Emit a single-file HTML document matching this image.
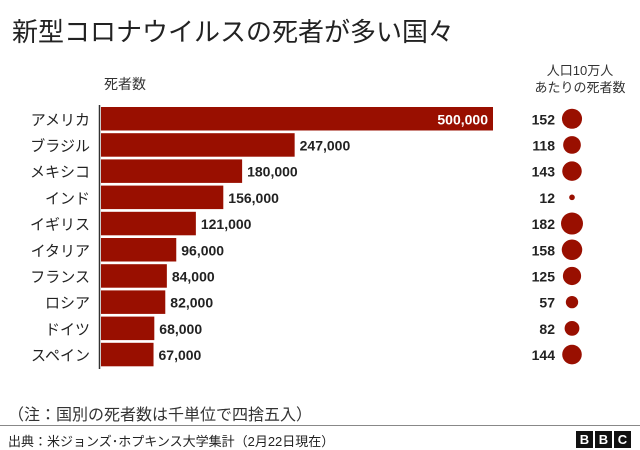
<!DOCTYPE html>
<html><head><meta charset="utf-8"><style>
body{margin:0;width:640px;height:450px;background:#fff;font-family:"Liberation Sans","Noto Sans CJK JP",sans-serif;overflow:hidden;position:relative}
.t{position:absolute;white-space:nowrap;color:#222}
</style></head><body>
<div class="t" style="left:12px;top:12px;font-size:26px;color:#222">新型コロナウイルスの死者が多い国々</div>
<div class="t" style="left:104px;top:74px;font-size:14px;color:#333">死者数</div>
<div class="t" style="left:520px;top:62px;font-size:13px;line-height:17px;text-align:center;width:120px;color:#333">人口10万人<br>あたりの死者数</div>
<svg id="chart" width="640" height="450" style="position:absolute;left:0;top:0"></svg>
<div class="t" style="left:8px;top:401px;font-size:16px;color:#333">（注：国別の死者数は千単位で四捨五入）</div>
<div style="position:absolute;left:0;top:425px;width:640px;height:1px;background:#888"></div>
<div class="t" style="left:8px;top:431px;font-size:13px;color:#222">出典：米ジョンズ･ホプキンス大学集計（2月22日現在）</div>
<div style="position:absolute;left:576px;top:431px;display:flex;gap:2px">
<span style="width:17px;height:17px;background:#111;color:#fff;font:bold 13px 'Liberation Sans';text-align:center;line-height:17px">B</span>
<span style="width:17px;height:17px;background:#111;color:#fff;font:bold 13px 'Liberation Sans';text-align:center;line-height:17px">B</span>
<span style="width:17px;height:17px;background:#111;color:#fff;font:bold 13px 'Liberation Sans';text-align:center;line-height:17px">C</span>
</div>
<script>
const countries=["アメリカ","ブラジル","メキシコ","インド","イギリス","イタリア","フランス","ロシア","ドイツ","スペイン"];
const deaths=[500000,247000,180000,156000,121000,96000,84000,82000,68000,67000];
const perCapita=[152,118,143,12,182,158,125,57,82,144];
const NS="http://www.w3.org/2000/svg";
const svg=document.getElementById('chart');
const x0=101,xScale=v=>v/500000*392;
const yTop=107,pitch=26.2,bh=23.5;
const rScale=v=>11*Math.sqrt(v/182);
function mk(tag,attrs){const e=document.createElementNS(NS,tag);for(const k in attrs)e.setAttribute(k,attrs[k]);svg.appendChild(e);return e;}
const ax=mk('line',{x1:99.5,x2:99.5,y1:105,y2:369,stroke:'#333','stroke-width':1.5});


const fmt=v=>v.toLocaleString('en-US');
countries.forEach((c,i)=>{
 const y=yTop+i*pitch, w=xScale(deaths[i]), cy=y+bh/2;
 const b=mk('rect',{x:x0,y:y,width:w,height:bh,fill:'#990f00'});
 
 
 const lab=mk('text',{x:90,y:cy+6,'text-anchor':'end','font-size':15,fill:'#222'});lab.textContent=c;
 
 
 const inside=w>300;
 const v=mk('text',{x:inside?x0+w-5:x0+w+5,y:cy+5.5,'text-anchor':inside?'end':'start','font-size':14,'font-weight':'bold',fill:inside?'#fff':'#222'});v.textContent=fmt(deaths[i]);
 
 
 const p=mk('text',{x:555,y:cy+5.5,'text-anchor':'end','font-size':14,'font-weight':'bold',fill:'#222'});p.textContent=perCapita[i];
 
 
 const ci=mk('circle',{cx:572,cy:cy,r:rScale(perCapita[i]),fill:'#990f00'});
 
 
});
</script>
</body></html>
